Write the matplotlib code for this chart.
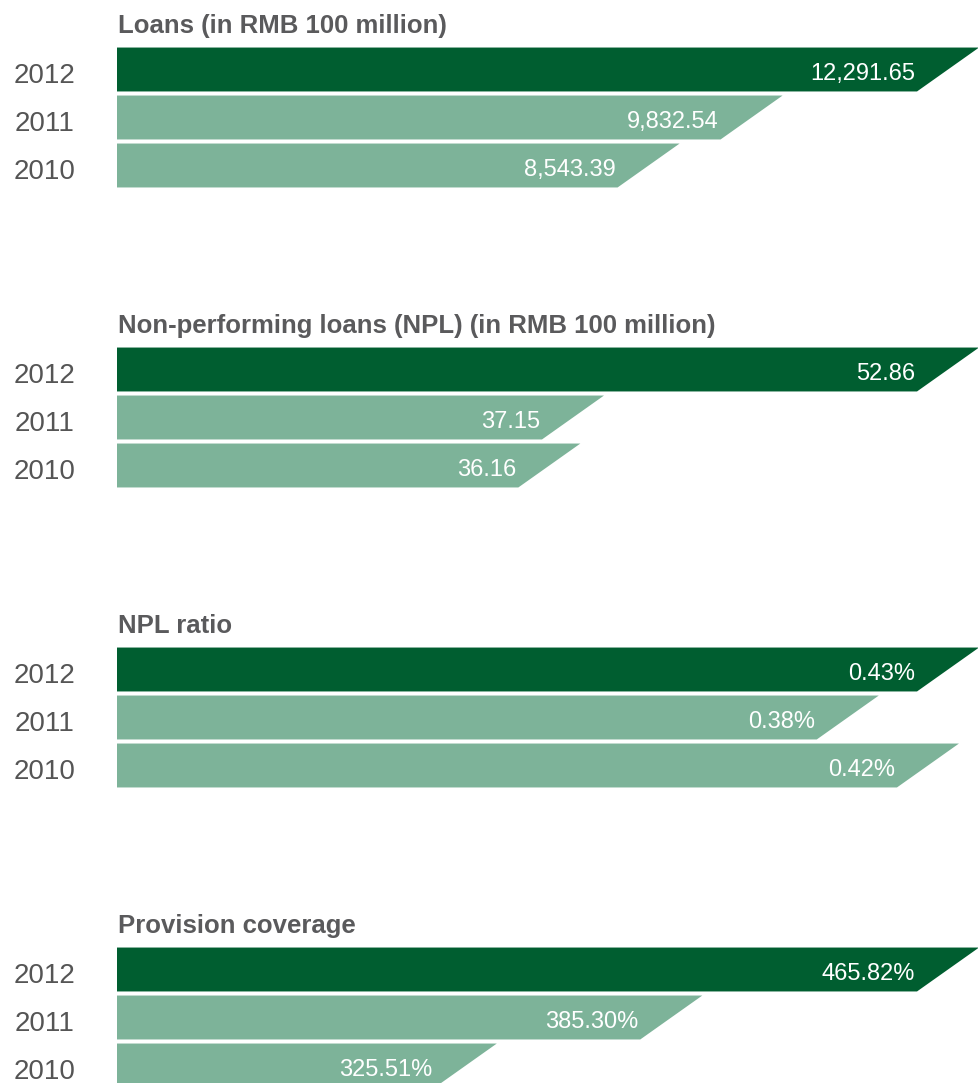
import numpy as np
import matplotlib
matplotlib.use("Agg")
import matplotlib.pyplot as plt
from matplotlib.patches import Polygon

# Figures for the three years, newest first
years = ["2012", "2011", "2010"]
titles = ["Loans (in RMB 100 million)",
          "Non-performing loans (NPL) (in RMB 100 million)",
          "NPL ratio",
          "Provision coverage"]
loans = [12291.65, 9832.54, 8543.39]
npl = [52.86, 37.15, 36.16]
npl_ratio = [0.43, 0.38, 0.42]
provision = [465.82, 385.30, 325.51]
loan_labels = ["12,291.65", "9,832.54", "8,543.39"]
npl_labels = ["52.86", "37.15", "36.16"]
ratio_labels = ["0.43%", "0.38%", "0.42%"]
provision_labels = ["465.82%", "385.30%", "325.51%"]
# value where each panel's bars start
axis_start = [1500, 16.75, 0.0, 215.0]

DARK = "#005e30"
LIGHT = "#7db399"
GREY = "#5a5a5c"
W, H = 979, 1083
SLANT_PX = 62
BAR_H = 0.915

plt.rcParams['font.family'] = ['Liberation Sans', 'DejaVu Sans']

fig = plt.figure(figsize=(W / 100, H / 100), dpi=100)

panels = [(loans, loan_labels), (npl, npl_labels),
          (npl_ratio, ratio_labels), (provision, provision_labels)]

for k, (vals, labels) in enumerate(panels):
    top_px = 45.5 + 300 * k
    ax = fig.add_axes([117 / W, 1 - (top_px + 144) / H, 862 / W, 144 / H])
    lo, hi = axis_start[k], max(vals)
    ax.set_xlim(lo, hi)
    ax.set_ylim(2.5, -0.5)
    ax.axis("off")
    slant = SLANT_PX * (hi - lo) / 862

    for i, (v, lab) in enumerate(zip(vals, labels)):
        color = DARK if i == 0 else LIGHT
        y0, y1 = i - BAR_H / 2, i + BAR_H / 2
        ax.add_patch(Polygon([(lo, y0), (v, y0), (v - slant, y1), (lo, y1)],
                             closed=True, facecolor=color, edgecolor="none",
                             clip_on=False))
        ax.annotate(lab, xy=(v, i), xytext=(-SLANT_PX - 2, -10.5),
                    textcoords="offset pixels", ha="right", va="baseline",
                    color="white", fontsize=17)
        ax.annotate(years[i], xy=(0, i), xycoords=("axes fraction", "data"),
                    xytext=(-72, -13.5), textcoords="offset pixels",
                    ha="center", va="baseline", color="#555555",
                    fontsize=20, annotation_clip=False)

    ax.annotate(titles[k], xy=(0, 1), xycoords="axes fraction",
                xytext=(1, 12.5), textcoords="offset pixels",
                ha="left", va="baseline", color=GREY, fontsize=18.5,
                fontweight="bold", annotation_clip=False)

fig.savefig("out.png", dpi=100)
